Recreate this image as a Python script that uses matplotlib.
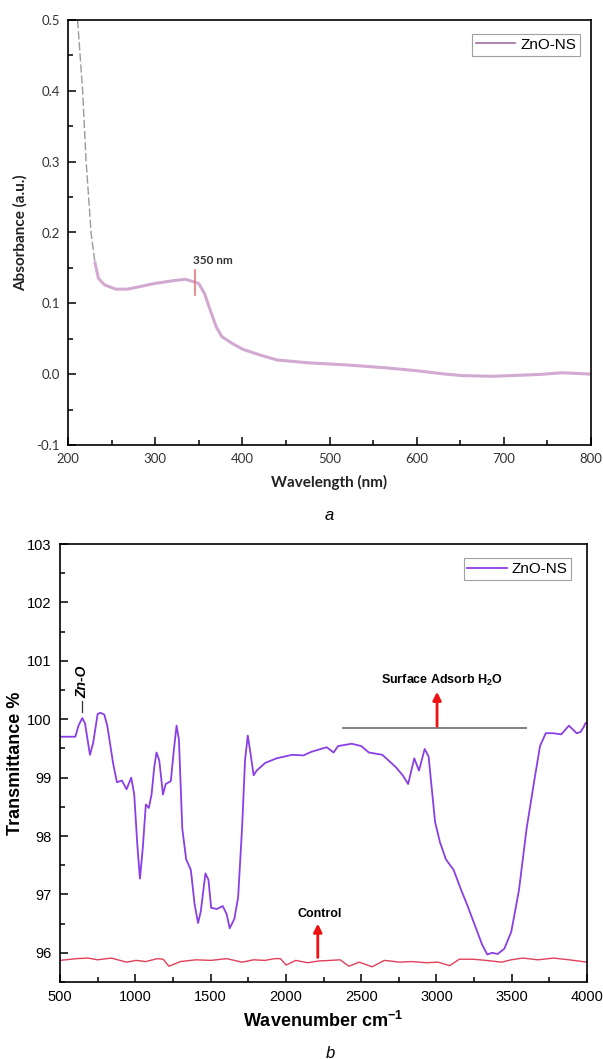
import matplotlib
matplotlib.use("Agg")
import matplotlib.pyplot as plt
from matplotlib.ticker import MultipleLocator, FormatStrFormatter

plt.rcParams['axes.unicode_minus'] = False

# ---------------- data: panel a (UV-Vis) ----------------
uv_wavelength = [211, 216.8, 220.7, 226.5, 231, 235, 242, 255, 268, 284, 299, 321,
                 334.6, 343, 350, 356.6, 363, 370, 376.5, 387.5, 400.7, 423, 440,
                 475.7, 520, 564, 599, 630, 652, 687, 740, 767, 785, 800]
uv_absorbance = [0.5, 0.4, 0.302, 0.199, 0.157, 0.135, 0.126, 0.120, 0.120, 0.124,
                 0.128, 0.132, 0.134, 0.131, 0.128, 0.114, 0.091, 0.067, 0.053,
                 0.044, 0.035, 0.026, 0.020, 0.016, 0.013, 0.009, 0.005, 0.0005,
                 -0.002, -0.003, -0.0005, 0.002, 0.001, 0.0]
uv_steep_n = 5  # first points drawn as the thin dashed steep segment
peak_label = "350 nm"
peak_x = 345.5
peak_y = (0.112, 0.147)

# ---------------- data: panel b (FTIR) ----------------
ir_wavenumber = [500, 602, 623, 648, 666, 699, 720, 750, 768, 794, 814, 853, 878,
                 911, 942, 973, 993, 1014, 1031, 1049, 1070, 1090, 1108, 1126, 1141,
                 1159, 1184, 1202, 1236, 1254, 1274, 1290, 1312, 1338, 1369, 1394,
                 1417, 1435, 1466, 1486, 1504, 1542, 1581, 1607, 1627, 1658, 1683,
                 1709, 1729, 1747, 1765, 1786, 1806, 1862, 1938, 2041, 2117, 2168,
                 2271, 2317, 2347, 2437, 2501, 2551, 2641, 2730, 2776, 2812, 2853,
                 2884, 2922, 2948, 2973, 2991, 3024, 3063, 3114, 3165, 3203, 3254,
                 3305, 3338, 3369, 3407, 3451, 3497, 3548, 3599, 3650, 3688, 3726,
                 3777, 3829, 3880, 3931, 3956, 3977, 3987, 4000]
ir_transmittance = [99.70, 99.70, 99.89, 100.02, 99.93, 99.39, 99.59, 100.09, 100.11,
                    100.08, 99.89, 99.24, 98.92, 98.95, 98.80, 99.00, 98.71, 97.83,
                    97.27, 97.77, 98.54, 98.48, 98.71, 99.18, 99.43, 99.30, 98.71,
                    98.89, 98.94, 99.42, 99.89, 99.65, 98.13, 97.60, 97.42, 96.83,
                    96.51, 96.71, 97.36, 97.25, 96.77, 96.75, 96.80, 96.66, 96.42,
                    96.58, 96.95, 98.13, 99.30, 99.72, 99.42, 99.04, 99.12, 99.25,
                    99.33, 99.39, 99.38, 99.44, 99.52, 99.43, 99.54, 99.58, 99.54,
                    99.43, 99.39, 99.18, 99.04, 98.89, 99.33, 99.12, 99.49, 99.36,
                    98.71, 98.24, 97.89, 97.60, 97.42, 97.07, 96.83, 96.48, 96.13,
                    95.97, 96.00, 95.98, 96.07, 96.36, 97.07, 98.13, 98.95, 99.54,
                    99.76, 99.76, 99.74, 99.89, 99.76, 99.78, 99.86, 99.92, 99.95]
ctrl_wavenumber = [500, 610, 686, 750, 840, 942, 1006, 1070, 1146, 1185, 1223, 1300,
                   1402, 1504, 1606, 1709, 1786, 1862, 1926, 1964, 2002, 2066, 2143,
                   2220, 2297, 2360, 2419, 2488, 2573, 2654, 2757, 2833, 2935, 3012,
                   3088, 3152, 3242, 3330, 3433, 3497, 3573, 3675, 3777, 3880, 4000]
ctrl_transmittance = [95.87, 95.90, 95.91, 95.88, 95.91, 95.84, 95.87, 95.85, 95.90,
                      95.89, 95.77, 95.85, 95.88, 95.87, 95.90, 95.84, 95.88, 95.87,
                      95.90, 95.90, 95.79, 95.87, 95.83, 95.86, 95.87, 95.88, 95.77,
                      95.84, 95.76, 95.87, 95.84, 95.85, 95.83, 95.84, 95.78, 95.89,
                      95.89, 95.87, 95.84, 95.88, 95.91, 95.88, 95.91, 95.88, 95.84]
zno_label_x = 648
water_span = (2380, 3592)
water_y = 99.85
water_arrow_x = 3004
control_arrow_x = 2212

W, H = 603, 1059
fig = plt.figure(figsize=(W / 100, H / 100), dpi=100)

def rect(l, t, r, b):
    return [l / W, 1 - b / H, (r - l) / W, (b - t) / H]

# ---------------- panel a ----------------
ax1 = fig.add_axes(rect(68, 20, 591, 445))
pink = '#c99ac9'
ax1.plot(uv_wavelength[:uv_steep_n], uv_absorbance[:uv_steep_n], color='#9a9a9a',
         lw=1.0, ls=(0, (6, 2)))
ax1.plot(uv_wavelength[uv_steep_n - 1:], uv_absorbance[uv_steep_n - 1:], color=pink,
         lw=2.2, alpha=0.85)
ax1.plot([], [], color='#a070a0', lw=1.2, label='ZnO-NS')
ax1.plot([peak_x, peak_x], peak_y, color='#e07a7a', lw=1.2)
ax1.text(peak_x - 2, 0.152, peak_label, fontsize=8.5, fontweight='bold',
         family='Lato', color='#333333', ha='left', va='bottom')
ax1.set_xlim(200, 800)
ax1.set_ylim(-0.1, 0.5)
ax1.xaxis.set_major_locator(MultipleLocator(100))
ax1.xaxis.set_minor_locator(MultipleLocator(50))
ax1.yaxis.set_major_locator(MultipleLocator(0.1))
ax1.yaxis.set_minor_locator(MultipleLocator(0.05))
ax1.yaxis.set_major_formatter(FormatStrFormatter('%.1f'))
ax1.tick_params(which='both', direction='in', top=False, right=False,
                labelsize=9.5, labelcolor='#333333', width=1.1)
ax1.tick_params(which='major', length=6, pad=6)
ax1.tick_params(which='minor', length=3.5)
for lab in ax1.get_xticklabels() + ax1.get_yticklabels():
    lab.set_family('Lato')
for s in ax1.spines.values():
    s.set_linewidth(1.2)
ax1.set_xlabel('Wavelength (nm)', fontsize=11, fontweight='bold', family='Lato',
               color='#222222', labelpad=7)
ax1.set_ylabel('Absorbance (a.u.)', fontsize=11, fontweight='bold', family='Lato',
               color='#222222', labelpad=6)
leg1 = ax1.legend(loc='upper right', frameon=True, fancybox=False,
                  borderpad=0.25, handlelength=2.6, handletextpad=0.3,
                  bbox_to_anchor=(0.993, 0.985), prop={'family': 'Liberation Sans', 'size': 11})
leg1.get_frame().set_edgecolor('#888888')
leg1.get_frame().set_linewidth(0.8)
fig.text(329 / W, 1 - 515 / H, 'a', fontsize=12, style='italic',
         family='Liberation Sans', ha='center', va='center')

# ---------------- panel b ----------------
ax2 = fig.add_axes(rect(60, 544, 587, 982))
purple = '#8a3fe6'
ax2.plot(ir_wavenumber, ir_transmittance, color=purple, lw=1.3, label='ZnO-NS')
ax2.plot(ctrl_wavenumber, ctrl_transmittance, color='#e0405a', lw=1.0)
ax2.set_xlim(500, 4000)
ax2.set_ylim(95.5, 103)
ax2.xaxis.set_major_locator(MultipleLocator(500))
ax2.xaxis.set_minor_locator(MultipleLocator(250))
ax2.yaxis.set_major_locator(MultipleLocator(1))
ax2.yaxis.set_minor_locator(MultipleLocator(0.5))
ax2.tick_params(which='both', direction='in', top=False, right=False,
                labelsize=10.5, width=1.1)
ax2.tick_params(which='major', length=6, pad=6)
ax2.tick_params(which='minor', length=3.5)
for lab in ax2.get_xticklabels() + ax2.get_yticklabels():
    lab.set_family('Liberation Sans')
for s in ax2.spines.values():
    s.set_linewidth(1.2)
ax2.set_xlabel('Wavenumber cm$^{\\mathregular{-1}}$', fontsize=13, fontweight='bold',
               family='Liberation Sans', labelpad=5)
ax2.set_ylabel('Transmittance %', fontsize=13, fontweight='bold',
               family='Liberation Sans', labelpad=2)
leg2 = ax2.legend(loc='upper right', frameon=True, fancybox=False,
                  borderpad=0.25, handlelength=2.6, handletextpad=0.3,
                  bbox_to_anchor=(0.985, 0.985), prop={'family': 'Liberation Sans', 'size': 11})
leg2.get_frame().set_edgecolor('#888888')
leg2.get_frame().set_linewidth(0.8)

# Zn-O annotation
ax2.plot([zno_label_x, zno_label_x], [100.12, 100.32], color='#333333', lw=0.9)
ax2.text(zno_label_x, 100.36, 'Zn-O', rotation=90, fontsize=10, fontweight='bold',
         style='italic', family='Liberation Sans', ha='center', va='bottom')
# surface adsorbed water
ax2.plot(list(water_span), [water_y, water_y], color='#808080', lw=1.4)
ax2.annotate('', xy=(water_arrow_x, 100.47), xytext=(water_arrow_x, water_y + 0.03),
             arrowprops=dict(arrowstyle='-|>', color='#ee1111', lw=2.0,
                             mutation_scale=12, shrinkA=0, shrinkB=0))
ax2.text(3036, 100.66, 'Surface Adsorb H$_{\\mathregular{2}}$O', fontsize=9,
         fontweight='bold', family='Liberation Sans', ha='center', va='center')
# control
ax2.annotate('', xy=(control_arrow_x, 96.5), xytext=(control_arrow_x, 95.92),
             arrowprops=dict(arrowstyle='-|>', color='#ee1111', lw=2.0,
                             mutation_scale=12, shrinkA=0, shrinkB=0))
ax2.text(2224, 96.66, 'Control', fontsize=9, fontweight='bold',
         family='Liberation Sans', ha='center', va='center')

fig.text(330 / W, 1 - 1053 / H, 'b', fontsize=12, style='italic',
         family='Liberation Sans', ha='center', va='center')

fig.savefig('out.png', dpi=100)
